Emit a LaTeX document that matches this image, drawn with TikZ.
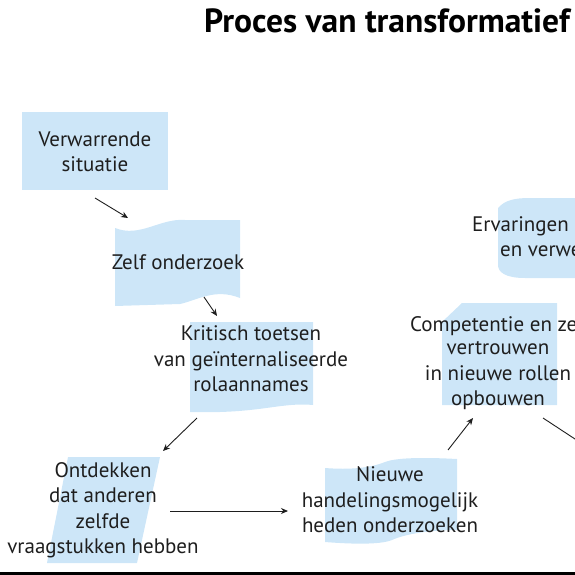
\documentclass[tikz,border=0pt]{standalone}
\usepackage{fontspec}
\setmainfont{PT Sans}
\usetikzlibrary{arrows.meta}
\definecolor{shapeblue}{RGB}{205,230,248}
\definecolor{ink}{RGB}{30,30,30}
\tikzset{
  lbl/.style={align=center, text=ink, font=\fontsize{21}{25.5}\selectfont, inner sep=0pt},
  shp/.style={fill=shapeblue, draw=none},
  conn/.style={draw=ink, line width=0.9pt, -{Stealth[length=7pt,width=6pt]}},
}
\begin{document}
\begin{tikzpicture}[x=1pt,y=-1pt]
\useasboundingbox (0,0) rectangle (575,575);
\clip (0,0) rectangle (575,575);
% shapes
\fill[shp] (22,112) rectangle (168,190);
\fill[shp] (115,228) .. controls (140,238) and (160,218) .. (185,220) -- (240,220) -- (240,298)
  .. controls (215,288) and (198,300) .. (180,304) -- (115,306) -- cycle;
\fill[shp] (190,322) -- (313,322) -- (313,405) .. controls (280,402) and (260,414) .. (190,412) -- cycle;
\fill[shp] (68,457) -- (160,457) -- (137,563) -- (47,563) -- cycle;
\fill[shp] (325,468) .. controls (350,470) and (370,468) .. (385,462) .. controls (395,458) and (420,457) .. (457,459)
  -- (457,530) .. controls (430,530) and (405,534) .. (392,540) .. controls (380,545) and (350,544) .. (325,542) -- cycle;
\fill[shp] (462,303) -- (557,303) -- (557,405) -- (442,405) -- (442,322) -- cycle;
\fill[shp] (498,208) .. controls (505,200) and (515,198) .. (530,198) -- (590,198) -- (590,278) -- (525,278)
  .. controls (505,278) and (498,272) .. (498,265) -- cycle;
% title
\node[font=\fontsize{33.5}{38}\selectfont\bfseries, text=black, anchor=west, inner sep=0pt] (title) at (204,21) {Proces van transformatief};
% labels
\node[lbl] (verw) at (95,152) {Verwarrende\\situatie};
\node[lbl] (zelf) at (178,262) {Zelf onderzoek};
\node[lbl] (krit) at (251,359) {Kritisch toetsen\\van geïnternaliseerde\\rolaannames};
\node[lbl] (ontd) at (103,510) {Ontdekken\\dat anderen\\zelfde\\vraagstukken hebben};
\node[lbl] (nieuw) at (390,500) {Nieuwe\\handelingsmogelijk\\heden onderzoeken};
\node[lbl, anchor=west] (comp1) at (410,326) {Competentie en ze};
\node[lbl] (comp) at (498,376) {vertrouwen\\in nieuwe rollen\\opbouwen};
\node[lbl, anchor=west] (erv1) at (472,226) {Ervaringen e};
\node[lbl, anchor=west] (erv2) at (500,251) {en verwe};
% connector end points
\coordinate (a1s) at (95,198);  \coordinate (a1e) at (128,218);
\coordinate (a2s) at (204,297); \coordinate (a2e) at (217,316);
\coordinate (a3s) at (197,418); \coordinate (a3e) at (163,451);
\coordinate (a4s) at (170,511); \coordinate (a4e) at (288,511);
\coordinate (a5s) at (448,450); \coordinate (a5e) at (473,418);
\coordinate (a6s) at (543,418); \coordinate (a6e) at (610,462);
\draw[conn] (a1s) -- (a1e);
\draw[conn] (a2s) -- (a2e);
\draw[conn] (a3s) -- (a3e);
\draw[conn] (a4s) -- (a4e);
\draw[conn] (a5s) -- (a5e);
\draw[conn] (a6s) -- (a6e);
% bottom rule
\draw[line width=2.5pt] (0,573.7) -- (575,573.7);
\end{tikzpicture}
\end{document}
